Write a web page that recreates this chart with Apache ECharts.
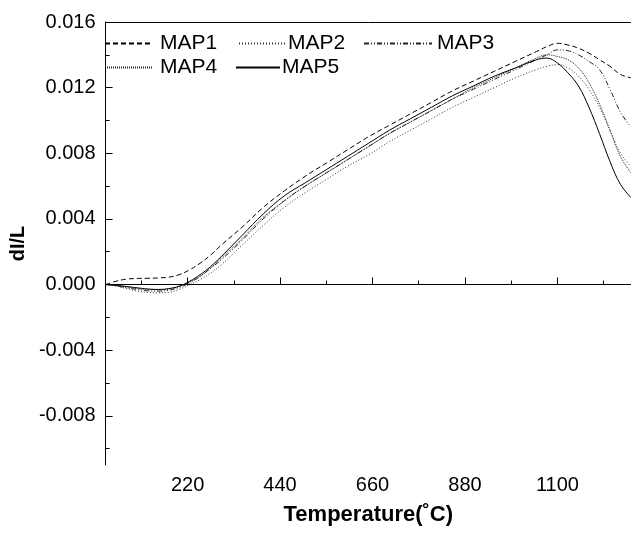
<!DOCTYPE html>
<html><head><meta charset="utf-8">
<script src="https://cdn.jsdelivr.net/npm/echarts@6/dist/echarts.min.js"></script>
<style>html,body{margin:0;padding:0;background:#fff}#c{width:631px;height:533px}</style>
</head><body><div id="c"></div>
<script>
const temps = [25,50,75,100,125,150,175,200,225,250,275,300,350,400,450,500,550,600,650,700,750,800,850,900,950,1000,1050,1075,1100,1125,1150,1175,1200,1225,1250,1275];
const map1 = [0,0.0002,0.00033,0.00037,0.00038,0.0004,0.00045,0.0006,0.0009,0.0013,0.0018,0.0024,0.0035,0.0047,0.0057,0.0066,0.0074,0.0082,0.0090,0.0097,0.0104,0.0111,0.0118,0.0124,0.0130,0.0136,0.0142,0.0145,0.0147,0.0146,0.0144,0.0141,0.0137,0.0133,0.0128,0.0126];
const map2 = [0,-0.0001,-0.00025,-0.0004,-0.00048,-0.0005,-0.00048,-0.0003,0.0000,0.0003,0.0007,0.0012,0.0024,0.0036,0.0047,0.0056,0.0064,0.0072,0.0079,0.0087,0.0094,0.0101,0.0108,0.0114,0.0120,0.0126,0.0131,0.0133,0.0134,0.0132,0.0127,0.0119,0.0108,0.0094,0.0080,0.0072];
const map3 = [0,-0.00008,-0.0002,-0.0003,-0.00038,-0.0004,-0.00035,-0.00018,0.0001,0.0005,0.0010,0.0015,0.0027,0.0040,0.0051,0.0060,0.0068,0.0076,0.0084,0.0092,0.0099,0.0106,0.0113,0.0119,0.0125,0.0131,0.0137,0.0140,0.0143,0.01425,0.0140,0.0136,0.0131,0.0119,0.0105,0.0096];
const map4 = [0,-0.00006,-0.00015,-0.00025,-0.0003,-0.00032,-0.00028,-0.00012,0.00015,0.0005,0.0010,0.0016,0.0028,0.0041,0.0051,0.0060,0.0068,0.0076,0.0084,0.0092,0.0099,0.0106,0.0113,0.0120,0.0126,0.0132,0.0138,0.0140,0.0139,0.0137,0.0132,0.0123,0.0110,0.0094,0.0078,0.0068];
const map5 = [0,-0.00005,-0.00012,-0.0002,-0.00027,-0.0003,-0.00025,-0.0001,0.0002,0.0006,0.0011,0.0017,0.0030,0.0043,0.0054,0.0062,0.0070,0.0078,0.0086,0.0094,0.0101,0.0108,0.0115,0.0121,0.0127,0.0132,0.0137,0.0138,0.0135,0.0129,0.0121,0.0108,0.0092,0.0075,0.0061,0.0053];
const seriesNames = ['MAP1','MAP2','MAP3','MAP4','MAP5'];
const xTicks = [220,440,660,880,1100];
const xMinor = [110,330,550,770,990,1210];
const yTicks = [-0.008,-0.004,0,0.004,0.008,0.012,0.016];
const yMinor = [-0.010,-0.006,-0.002,0.002,0.006,0.010,0.014];

const values = [map1,map2,map3,map4,map5];
const dashes = [[5,3],[1,2],[5,2,1,2,1,2],[1,1],'solid'];
const colors = ['#000','#333','#222','#222','#000'];
const FONT = 'Liberation Sans';
const xMin = 25, xMax = 1275, yMin = -0.011, yMax = 0.016;

const chart = echarts.init(document.getElementById('c'), null, {renderer:'canvas'});
// [left, top, iconWidth, textPadLeft]
const legendPos = [[104,33,47,3],[238,33,47,-3],[363,33,68,0],[104,57,47,3],[235,57,44,-3]];
const legends = seriesNames.map((n,i)=>({
  data:[n], left:legendPos[i][0], top:legendPos[i][1], itemWidth:legendPos[i][2], itemHeight:14,
  itemGap:0, selectedMode:false, padding:0,
  itemStyle:{opacity:0, color:'transparent', borderWidth:0},
  textStyle:{fontFamily:FONT, fontSize:21, color:'#000', padding:[0,0,0,legendPos[i][3]]}
}));
const axisBase = {type:'value', min:xMin, max:xMax};
chart.setOption({
  animation:false,
  backgroundColor:'#fff',
  legend: legends,
  grid:{left:102, right:0, top:22, bottom:68, containLabel:false},
  xAxis:[
    Object.assign({}, axisBase, {
      position:'bottom', name:'Temperature(˚C)', nameLocation:'middle', nameGap:39,
      nameTextStyle:{fontFamily:FONT, fontSize:22, fontWeight:'bold', color:'#000'},
      axisLine:{show:true, lineStyle:{color:'#000', width:1}},
      axisTick:{show:true, inside:true, length:7, customValues:xTicks, lineStyle:{color:'#000'}},
      axisLabel:{show:true, customValues:xTicks, margin:10, fontFamily:FONT, fontSize:20, color:'#000',
        formatter:v=>String(Math.round(v))},
      splitLine:{show:false}
    }),
    Object.assign({}, axisBase, {
      position:'bottom', axisLine:{show:false},
      axisTick:{show:true, inside:true, length:4, customValues:xMinor, lineStyle:{color:'#000'}},
      axisLabel:{show:false}, splitLine:{show:false}
    }),
    Object.assign({}, axisBase, {
      position:'top', axisLine:{show:true, lineStyle:{color:'#000', width:1}},
      axisTick:{show:false}, axisLabel:{show:false}, splitLine:{show:false}
    })
  ],
  yAxis:[
    {type:'value', min:yMin, max:yMax, position:'left',
      name:'dI/L', nameLocation:'middle', nameGap:68,
      nameTextStyle:{fontFamily:FONT, fontSize:20, fontWeight:'bold', color:'#000'},
      axisLine:{show:true, lineStyle:{color:'#000', width:1}},
      axisTick:{show:true, inside:true, length:7, customValues:yTicks, lineStyle:{color:'#000'}},
      axisLabel:{show:true, customValues:yTicks, margin:10, fontFamily:FONT, fontSize:20, color:'#000',
        formatter:v=>Number(v).toFixed(3)},
      splitLine:{show:false}},
    {type:'value', min:yMin, max:yMax, position:'left', axisLine:{show:false},
      axisTick:{show:true, inside:true, length:4, customValues:yMinor, lineStyle:{color:'#000'}},
      axisLabel:{show:false}, splitLine:{show:false}}
  ],
  series: seriesNames.map((n,i)=>({
    name:n, type:'line', xAxisIndex:0, yAxisIndex:0, symbol:'none', smooth:0.4,
    data: temps.map((t,j)=>[t, values[i][j]]),
    lineStyle:{color:colors[i], width:1, type:dashes[i]},
    itemStyle:{color:colors[i]}
  }))
});
</script></body></html>
